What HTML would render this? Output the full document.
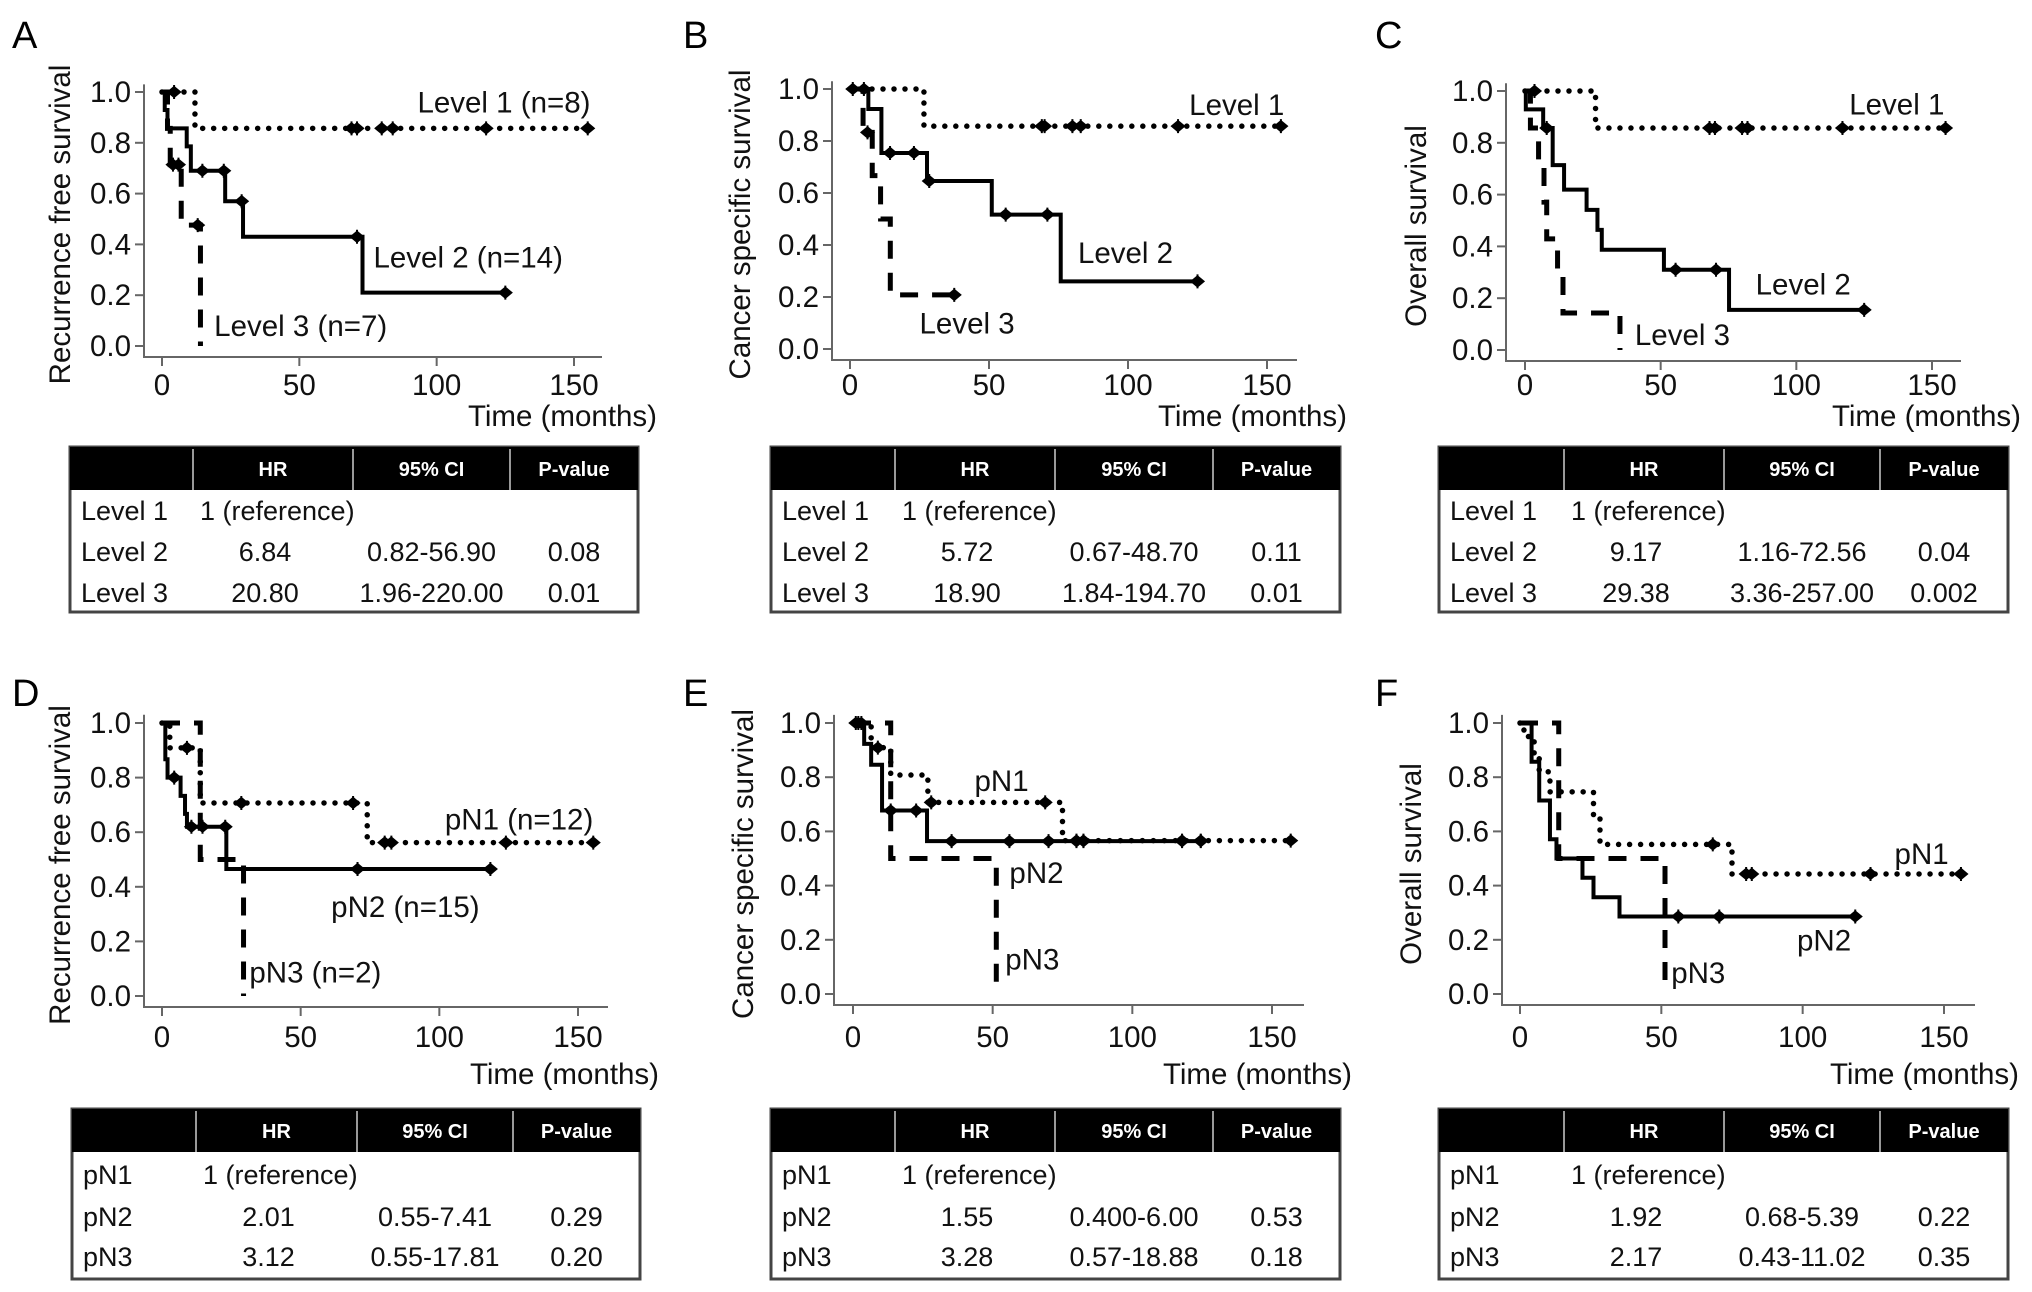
<!DOCTYPE html>
<html><head><meta charset="utf-8">
<style>
html,body{margin:0;padding:0;background:#fff;}
svg{display:block;font-family:"Liberation Sans",Arial,sans-serif;}
</style></head>
<body>
<svg id="fig" width="2032" height="1292" viewBox="0 0 2032 1292" xmlns="http://www.w3.org/2000/svg"></svg>
<script>
// ---------- DATA ----------
const xTicks = [0, 50, 100, 150];
const yTicks = [0, 0.2, 0.4, 0.6, 0.8, 1.0];
const yTickLabels = ["0.0", "0.2", "0.4", "0.6", "0.8", "1.0"];
const tableHeader = ["", "HR", "95% CI", "P-value"];

// Panel A
const A1_t = [0, 12];                     const A1_s = [1, 0.857];
const A1_c = [4.4, 69, 71, 80, 84, 118, 155];
const A2_t = [0, 1, 2, 9, 10.5, 23, 29.5, 73];
const A2_s = [1, 0.929, 0.857, 0.786, 0.69, 0.57, 0.43, 0.21];
const A2_c = [14.7, 22.5, 29, 71, 125];
const A3_t = [0, 2, 3, 7, 14];            const A3_s = [1, 0.857, 0.714, 0.476, 0];
const A3_c = [4, 6, 13];
const A_rows = [["Level 1","1 (reference)","",""],["Level 2","6.84","0.82-56.90","0.08"],["Level 3","20.80","1.96-220.00","0.01"]];
// Panel B
const B1_t = [0, 26.6];                   const B1_s = [1, 0.857];
const B1_c = [1, 5, 69, 70, 80, 83, 118, 155];
const B2_t = [0, 6.6, 11.3, 27.7, 51, 75.8];
const B2_s = [1, 0.923, 0.754, 0.646, 0.517, 0.26];
const B2_c = [14.4, 23, 28.5, 56, 71, 125];
const B3_t = [0, 4.7, 8, 11, 14.5];       const B3_s = [1, 0.833, 0.667, 0.5, 0.208];
const B3_c = [6.3, 37.5];
const B_rows = [["Level 1","1 (reference)","",""],["Level 2","5.72","0.67-48.70","0.11"],["Level 3","18.90","1.84-194.70","0.01"]];
// Panel C
const C1_t = [0, 26];                     const C1_s = [1, 0.857];
const C1_c = [3.5, 68, 70, 80, 82, 117, 155];
const C2_t = [0, 0.3, 6.7, 10.2, 14.4, 22.7, 26.7, 28.3, 51.2, 75.2];
const C2_s = [1, 0.929, 0.857, 0.714, 0.619, 0.541, 0.464, 0.387, 0.31, 0.155];
const C2_c = [8, 55.5, 70.4, 125];
const C3_t = [0, 2, 5, 7, 8, 12, 14, 35];
const C3_s = [1, 0.857, 0.714, 0.571, 0.429, 0.286, 0.143, 0];
const C3_c = [];
const C_rows = [["Level 1","1 (reference)","",""],["Level 2","9.17","1.16-72.56","0.04"],["Level 3","29.38","3.36-257.00","0.002"]];
// Panel D
const D1_t = [0, 2.8, 13.8, 74];          const D1_s = [1, 0.909, 0.707, 0.562];
const D1_c = [9, 28.6, 68.9, 80.3, 82.7, 124, 155.5];
const D2_t = [0, 1.2, 2, 6.7, 8.3, 9, 23.2];
const D2_s = [1, 0.867, 0.8, 0.733, 0.667, 0.62, 0.465];
const D2_c = [4.4, 10.6, 14.6, 22.8, 70.5, 118.4];
const D3_t = [0, 13.8, 29.4];             const D3_s = [1, 0.5, 0];
const D3_c = [];
const D_rows = [["pN1","1 (reference)","",""],["pN2","2.01","0.55-7.41","0.29"],["pN3","3.12","0.55-17.81","0.20"]];
// Panel E
const E1_t = [0, 6.5, 13.5, 26.8, 75];    const E1_s = [1, 0.909, 0.808, 0.707, 0.566];
const E1_c = [1.9, 8.9, 28, 68.8, 80, 82.5, 117.8, 124.5, 156.7];
const E2_t = [0, 4, 6.5, 10.4, 26.5];     const E2_s = [1, 0.923, 0.846, 0.677, 0.564];
const E2_c = [1, 3, 13.5, 22.6, 35.3, 56, 70, 80, 82.5, 117.8, 124.5];
const E3_t = [0, 13.5, 51.3];             const E3_s = [1, 0.5, 0];
const E3_c = [];
const E_rows = [["pN1","1 (reference)","",""],["pN2","1.55","0.400-6.00","0.53"],["pN3","3.28","0.57-18.88","0.18"]];
// Panel F
const F1_t = [0, 1.4, 5, 6.8, 10.6, 26, 28.3, 75];
const F1_s = [1, 0.95, 0.87, 0.82, 0.746, 0.65, 0.552, 0.443];
const F1_c = [68.2, 80, 82, 124, 156];
const F2_t = [0, 4.1, 6.8, 10.6, 12.9, 22.1, 26, 35.2];
const F2_s = [1, 0.857, 0.714, 0.571, 0.5, 0.429, 0.357, 0.286];
const F2_c = [56, 70.5, 118.6];
const F3_t = [0, 13.7, 51.3];             const F3_s = [1, 0.5, 0];
const F3_c = [];
const F_rows = [["pN1","1 (reference)","",""],["pN2","1.92","0.68-5.39","0.22"],["pN3","2.17","0.43-11.02","0.35"]];

// ---------- LAYOUT ----------
const TOPTB = {top:447,hb:490,bot:612,rows:[520,561,602],hy:469};
const BOTTB = {top:1109,hb:1152,bot:1279,rows:[1184,1226,1266],hy:1131};
const panels = [
 {id:"a",letter:"A",lx:12,ly:48,x0:162,x150:574,y1:92,y0:346,axL:144,axR:602,ytitle:"Recurrence free survival",ytx:60,tickY:395,timeY:426,timeR:657,
  tb:Object.assign({l:70,r:638,c:[193,353,510]},TOPTB), rows:A_rows,
  series:[{t:A1_t,s:A1_s,c:A1_c,st:"dot",name:"level-1",end:155},{t:A2_t,s:A2_s,c:A2_c,st:"solid",name:"level-2",end:125},{t:A3_t,s:A3_s,c:A3_c,st:"dash",name:"level-3",end:14}],
  labels:[["Level 1 (n=8)",93,0.92],["Level 2 (n=14)",77,0.31],["Level 3 (n=7)",19,0.04]]},
 {id:"b",letter:"B",lx:683,ly:48,x0:850,x150:1267,y1:89,y0:349,axL:832,axR:1297,ytitle:"Cancer specific survival",ytx:740,tickY:395,timeY:426,timeR:1347,
  tb:Object.assign({l:771,r:1340,c:[895,1055,1213]},TOPTB), rows:B_rows,
  series:[{t:B1_t,s:B1_s,c:B1_c,st:"dot",name:"level-1",end:155},{t:B2_t,s:B2_s,c:B2_c,st:"solid",name:"level-2",end:125},{t:B3_t,s:B3_s,c:B3_c,st:"dash",name:"level-3",end:37.5}],
  labels:[["Level 1",122,0.90],["Level 2",82,0.33],["Level 3",25,0.06]]},
 {id:"c",letter:"C",lx:1375,ly:48,x0:1525,x150:1932,y1:91,y0:350,axL:1506,axR:1961,ytitle:"Overall survival",ytx:1416,tickY:395,timeY:426,timeR:2021,
  tb:Object.assign({l:1439,r:2008,c:[1564,1724,1880]},TOPTB), rows:C_rows,
  series:[{t:C1_t,s:C1_s,c:C1_c,st:"dot",name:"level-1",end:155},{t:C2_t,s:C2_s,c:C2_c,st:"solid",name:"level-2",end:125},{t:C3_t,s:C3_s,c:C3_c,st:"dash",name:"level-3",end:35}],
  labels:[["Level 1",119.5,0.91],["Level 2",85,0.215],["Level 3",40.5,0.02]]},
 {id:"d",letter:"D",lx:12,ly:706,x0:162,x150:578,y1:723,y0:996,axL:144,axR:608,ytitle:"Recurrence free survival",ytx:60,tickY:1047,timeY:1084,timeR:659,
  tb:Object.assign({l:72,r:640,c:[196,357,513]},BOTTB), rows:D_rows,
  series:[{t:D1_t,s:D1_s,c:D1_c,st:"dot",name:"pn1",end:155.5},{t:D2_t,s:D2_s,c:D2_c,st:"solid",name:"pn2",end:118.4},{t:D3_t,s:D3_s,c:D3_c,st:"dash",name:"pn3",end:29.4}],
  labels:[["pN1 (n=12)",102,0.61],["pN2 (n=15)",61,0.29],["pN3 (n=2)",31.5,0.05]]},
 {id:"e",letter:"E",lx:683,ly:706,x0:853,x150:1272,y1:723,y0:994,axL:834,axR:1304,ytitle:"Cancer specific survival",ytx:743,tickY:1047,timeY:1084,timeR:1352,
  tb:Object.assign({l:771,r:1340,c:[895,1055,1213]},BOTTB), rows:E_rows,
  series:[{t:E1_t,s:E1_s,c:E1_c,st:"dot",name:"pn1",end:156.7},{t:E2_t,s:E2_s,c:E2_c,st:"solid",name:"pn2",end:124.5},{t:E3_t,s:E3_s,c:E3_c,st:"dash",name:"pn3",end:51.3}],
  labels:[["pN1",43.5,0.75],["pN2",56,0.41],["pN3",54.5,0.09]]},
 {id:"f",letter:"F",lx:1375,ly:706,x0:1520,x150:1944,y1:723,y0:994,axL:1502,axR:1975,ytitle:"Overall survival",ytx:1411,tickY:1047,timeY:1084,timeR:2019,
  tb:Object.assign({l:1439,r:2008,c:[1564,1724,1880]},BOTTB), rows:F_rows,
  series:[{t:F1_t,s:F1_s,c:F1_c,st:"dot",name:"pn1",end:156},{t:F2_t,s:F2_s,c:F2_c,st:"solid",name:"pn2",end:118.6},{t:F3_t,s:F3_s,c:F3_c,st:"dash",name:"pn3",end:51.3}],
  labels:[["pN1",132.5,0.48],["pN2",98,0.16],["pN3",53.5,0.04]]}
];

const NS = "http://www.w3.org/2000/svg";
const svg = document.getElementById("fig");
const FS = 29.5, TFS = 27;
function mk(tag, attrs, parent) {
  const e = document.createElementNS(NS, tag);
  for (const k in attrs) e.setAttribute(k, attrs[k]);
  (parent || svg).appendChild(e);
  return e;
}
function stepAt(ts, ss, t) {
  let v = ss[0];
  for (let i = 0; i < ts.length; i++) if (ts[i] <= t) v = ss[i];
  return v;
}

panels.forEach(p => {
  const g = mk("g", {});
  
  
  const X = t => p.x0 + (p.x150 - p.x0) * t / 150;
  const Y = s => p.y0 - (p.y0 - p.y1) * s;

  const letter = mk("text", {x:p.lx, y:p.ly, "font-size":38, fill:"#000"}, g);
  letter.textContent = p.letter;
  
  

  const axB = p.y0 + 11, axT = Y(1.03);
  const axes = mk("path", {d:`M${p.axL},${axT} L${p.axL},${axB} L${p.axR},${axB}`, fill:"none", stroke:"#666", "stroke-width":2}, g);
  
  
  yTicks.forEach((v, i) => {
    mk("line", {x1:p.axL - 9, x2:p.axL, y1:Y(v), y2:Y(v), stroke:"#666", "stroke-width":2}, g);
    const tl = mk("text", {x:p.axL - 13, y:Y(v) + 10, "font-size":FS, "text-anchor":"end", fill:"#111"}, g);
    tl.textContent = yTickLabels[i];
    
    
  });
  xTicks.forEach(v => {
    mk("line", {x1:X(v), x2:X(v), y1:axB, y2:axB + 9, stroke:"#666", "stroke-width":2}, g);
    const tl = mk("text", {x:X(v), y:p.tickY, "font-size":FS, "text-anchor":"middle", fill:"#111"}, g);
    tl.textContent = String(v);
    
    
  });
  const yc = (p.y1 + axB) / 2;
  const yt = mk("text", {x:p.ytx, y:yc, "font-size":FS, "text-anchor":"middle", fill:"#111", transform:`rotate(-90 ${p.ytx} ${yc}) translate(0 10)`}, g);
  yt.textContent = p.ytitle;
  
  
  const xt = mk("text", {x:p.timeR, y:p.timeY, "font-size":FS, "text-anchor":"end", fill:"#111"}, g);
  xt.textContent = "Time (months)";
  
  

  p.series.forEach(se => {
    let d = `M${X(se.t[0])},${Y(se.s[0])}`;
    for (let i = 1; i < se.t.length; i++) {
      d += ` L${X(se.t[i])},${Y(se.s[i-1])} L${X(se.t[i])},${Y(se.s[i])}`;
    }
    d += ` L${X(se.end)},${Y(se.s[se.s.length-1])}`;
    const attrs = {d:d, fill:"none", stroke:"#000"};
    if (se.st === "solid") { attrs["stroke-width"] = 4; }
    else if (se.st === "dot") { attrs["stroke-width"] = 5.5; attrs["stroke-dasharray"] = "0 11"; attrs["stroke-linecap"] = "round"; }
    else { attrs["stroke-width"] = 5; attrs["stroke-dasharray"] = "18 14"; }
    const path = mk("path", attrs, g);
    
    
    se.c.forEach(ct => {
      const cx = X(ct), cy = Y(stepAt(se.t, se.s, ct));
      const m = mk("path", {d:`M${cx-6},${cy} L${cx},${cy-5} L${cx+6},${cy} L${cx},${cy+5} Z M${cx},${cy-7} L${cx},${cy+7}`, fill:"#000", stroke:"#000", "stroke-width":2}, g);
      
      
    });
  });
  p.labels.forEach(l => {
    const t = mk("text", {x:X(l[1]), y:Y(l[2]), "font-size":FS, fill:"#111"}, g);
    t.textContent = l[0];
    
    
  });

  const tb = p.tb;
  const tg = mk("g", {}, g);
  
  
  mk("rect", {x:tb.l, y:tb.top, width:tb.r - tb.l, height:tb.bot - tb.top, fill:"#fff", stroke:"#444", "stroke-width":3}, tg);
  mk("rect", {x:tb.l, y:tb.top, width:tb.r - tb.l, height:tb.hb - tb.top, fill:"#000"}, tg);
  tb.c.forEach(cx => mk("line", {x1:cx, x2:cx, y1:tb.top + 2, y2:tb.hb, stroke:"#999", "stroke-width":2}, tg));
  const colsL = [tb.l].concat(tb.c), colsR = tb.c.concat([tb.r]);
  tableHeader.forEach((h, i) => {
    if (!h) return;
    const t = mk("text", {x:(colsL[i] + colsR[i]) / 2, y:tb.hy + 7, "font-size":20, "font-weight":"bold", "text-anchor":"middle", fill:"#fff"}, tg);
    t.textContent = h;
    
    
  });
  p.rows.forEach((r, ri) => {
    const y = tb.rows[ri];
    const t0 = mk("text", {x:tb.l + 11, y:y, "font-size":TFS, fill:"#111"}, tg);
    t0.textContent = r[0];
    
    
    if (r[1] && r[2] === "") {
      const t1 = mk("text", {x:tb.c[0] + 7, y:y, "font-size":TFS, fill:"#111"}, tg);
      t1.textContent = r[1];
      
      
      return;
    }
    for (let i = 1; i < 4; i++) {
      const cx = (colsL[i] + colsR[i]) / 2 - (i === 1 ? 8 : 0);
      const t = mk("text", {x:cx, y:y, "font-size":TFS, "text-anchor":"middle", fill:"#111"}, tg);
      t.textContent = r[i];
      
      
    }
  });
});
</script>
</body></html>
